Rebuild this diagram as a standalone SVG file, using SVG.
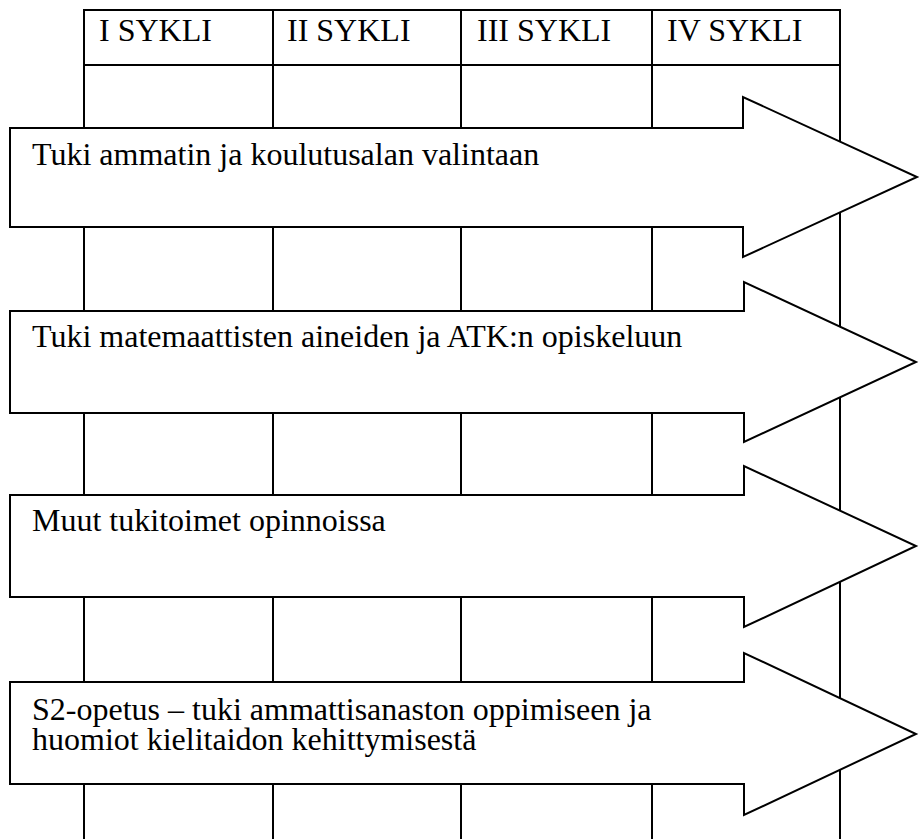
<svg xmlns="http://www.w3.org/2000/svg" width="920" height="839" viewBox="0 0 920 839">
<style>
.ln{fill:none;stroke:#000;stroke-width:2}
.arrow{fill:#fff;stroke:#000;stroke-width:2;stroke-linejoin:miter}
.t{font-family:"Liberation Serif","Times New Roman",serif;font-size:32px;fill:#000}
</style>
<rect x="0" y="0" width="920" height="839" fill="#fff"/>
<g id="table">
<path class="ln" d="M84,850 V10 H840 V850 M84,65 H840 M273,10 V850 M461,10 V850 M652,10 V850"/>
<text class="t" x="99" y="41">I SYKLI</text>
<text class="t" x="287" y="41">II SYKLI</text>
<text class="t" x="477" y="41">III SYKLI</text>
<text class="t" x="667" y="41">IV SYKLI</text>
</g>
<g id="arrow1">
<path class="arrow" d="M10,128 H743 V97 L917,177 L743,257 V227 H10 Z"/>
<text class="t" x="32" y="165">Tuki ammatin ja koulutusalan valintaan</text>
</g>
<g id="arrow2">
<path class="arrow" d="M10,311 H744 V282 L916,362 L744,442 V413 H10 Z"/>
<text class="t" x="32" y="347">Tuki matemaattisten aineiden ja ATK:n opiskeluun</text>
</g>
<g id="arrow3">
<path class="arrow" d="M10,495 H744 V466 L916,546 L744,627 V597 H10 Z"/>
<text class="t" x="32" y="531">Muut tukitoimet opinnoissa</text>
</g>
<g id="arrow4">
<path class="arrow" d="M10,682 H744 V653 L916,734 L744,815 V784 H10 Z"/>
<text class="t" x="32" y="720"><tspan x="32" y="720">S2-opetus – tuki ammattisanaston oppimiseen ja</tspan><tspan x="32" y="750">huomiot kielitaidon kehittymisestä</tspan></text>
</g>
</svg>
